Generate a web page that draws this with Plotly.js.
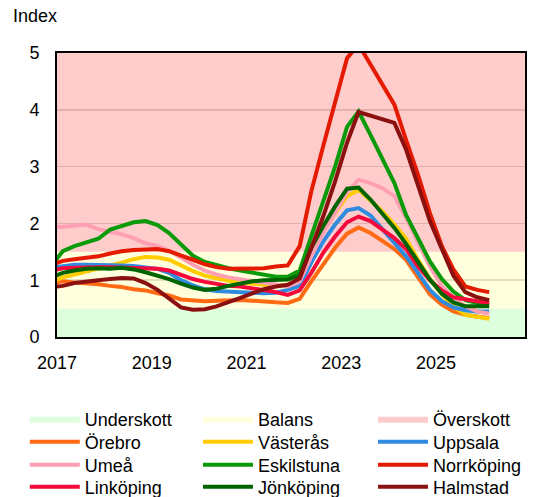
<!DOCTYPE html>
<html>
<head>
<meta charset="utf-8">
<script src="https://cdn.plot.ly/plotly-3.0.1.min.js"></script>
<style>html,body{margin:0;padding:0;background:#fff;}#chart{width:551px;height:497px;}</style>
</head>
<body>
<div id="chart"></div>
<script>
const dates = ['2016-11-15','2017-02-15','2017-05-15','2017-08-15','2017-11-15','2018-02-15','2018-05-15','2018-08-15','2018-11-15','2019-02-15','2019-05-15','2019-08-15','2019-11-15','2020-02-15','2020-05-15','2020-08-15','2020-11-15','2021-02-15','2021-05-15','2021-08-15','2021-11-15','2022-02-15','2022-05-15','2022-08-15','2022-11-15','2023-02-15','2023-05-15','2023-08-15','2023-11-15','2024-02-15','2024-05-15','2024-08-15','2024-11-15','2025-02-15','2025-05-15','2025-08-15','2025-11-15','2026-02-15'];

const orebro     = [0.95,0.98,0.96,0.95,0.93,0.90,0.88,0.84,0.82,0.77,0.73,0.66,0.64,0.63,0.64,0.65,0.65,0.64,0.62,0.61,0.60,0.67,0.98,1.27,1.57,1.82,1.93,1.83,1.68,1.55,1.36,1.04,0.75,0.57,0.45,0.39,0.36,0.33];
const vasteras   = [0.97,1.05,1.10,1.15,1.20,1.25,1.31,1.37,1.41,1.40,1.36,1.26,1.16,1.08,1.03,0.99,0.96,0.94,0.92,0.90,0.92,0.98,1.42,1.86,2.18,2.48,2.59,2.39,2.21,1.98,1.73,1.36,1.02,0.75,0.54,0.39,0.35,0.32];
const uppsala    = [1.22,1.25,1.27,1.27,1.27,1.27,1.26,1.25,1.23,1.20,1.13,1.00,0.91,0.84,0.81,0.80,0.79,0.79,0.77,0.78,0.83,0.90,1.31,1.68,1.98,2.23,2.27,2.14,1.90,1.68,1.42,1.13,0.83,0.63,0.52,0.47,0.45,0.45];
const umea       = [1.94,1.94,1.96,1.98,1.90,1.85,1.81,1.74,1.65,1.60,1.52,1.40,1.27,1.17,1.10,1.05,1.01,0.98,0.96,0.93,0.89,0.98,1.42,1.83,2.18,2.55,2.77,2.71,2.62,2.48,2.10,1.65,1.24,0.90,0.69,0.54,0.45,0.41];
const eskilstuna = [1.25,1.51,1.60,1.67,1.73,1.89,1.96,2.02,2.04,1.97,1.83,1.64,1.43,1.32,1.26,1.21,1.17,1.13,1.09,1.06,1.06,1.17,1.77,2.36,3.00,3.70,3.97,3.56,3.12,2.71,2.15,1.74,1.33,1.02,0.80,0.65,0.60,0.57];
const norrkoping = [1.27,1.34,1.37,1.39,1.42,1.47,1.51,1.53,1.54,1.55,1.51,1.44,1.36,1.28,1.23,1.20,1.20,1.20,1.21,1.24,1.26,1.60,2.56,3.36,4.12,4.91,5.15,4.80,4.47,4.09,3.47,2.86,2.18,1.60,1.19,0.89,0.83,0.79];
const linkoping  = [1.17,1.21,1.22,1.23,1.23,1.23,1.22,1.22,1.21,1.20,1.17,1.09,1.02,0.97,0.93,0.90,0.89,0.86,0.83,0.79,0.74,0.82,1.13,1.48,1.77,2.02,2.12,2.04,1.89,1.74,1.55,1.24,1.00,0.82,0.70,0.66,0.63,0.60];
const jonkoping  = [1.05,1.13,1.17,1.20,1.21,1.20,1.22,1.19,1.14,1.08,1.02,0.94,0.87,0.83,0.85,0.90,0.94,0.98,1.00,1.01,1.01,1.09,1.57,1.95,2.30,2.61,2.63,2.42,2.18,1.92,1.64,1.31,1.01,0.76,0.61,0.54,0.54,0.54];
const halmstad   = [0.88,0.90,0.95,0.98,1.00,1.02,1.04,1.03,0.95,0.83,0.68,0.52,0.48,0.49,0.54,0.61,0.69,0.77,0.84,0.89,0.92,1.03,1.57,2.12,2.74,3.42,3.96,3.90,3.84,3.77,3.30,2.65,2.04,1.55,1.08,0.79,0.70,0.65];

const bandNames = ['Underskott','Balans','Överskott'];
const bandTops  = [0.5, 1.5, 5];
const bandColors = ['rgba(187,255,187,0.5)','rgba(255,255,187,0.5)','rgba(255,153,153,0.5)'];
const xRange = ['2017-01-01','2026-11-18'];
const tickVals = ['2017-01-01','2019-01-01','2021-01-01','2023-01-01','2025-01-01'];
const tickText = ['2017','2019','2021','2023','2025'];

const seriesNames  = ['Örebro','Västerås','Uppsala','Umeå','Eskilstuna','Norrköping','Linköping','Jönköping','Halmstad'];
const seriesData   = [orebro, vasteras, uppsala, umea, eskilstuna, norrkoping, linkoping, jonkoping, halmstad];
const seriesColors = ['#FF6A13','#FFCC00','#2E8BE0','#FF9FB3','#0A9A0A','#E41B00','#F5083C','#006400','#8B1010'];

// legend grid placement (container fractions): 3 columns x 4 rows
const legendColX = [0.045, 0.3593, 0.677];
const legendRowY = [0.1942, 0.1479, 0.1016, 0.0573];
const legendId = j => (j === 0 ? 'legend' : 'legend' + (j + 1));

const traces = [];
bandNames.forEach((n, i) => {
  traces.push({
    x: xRange, y: [bandTops[i], bandTops[i]], name: n, type: 'scatter', mode: 'lines',
    line: {width: 0, color: bandColors[i]}, fill: i === 0 ? 'tozeroy' : 'tonexty',
    fillcolor: bandColors[i], hoverinfo: 'skip'
  });
});
seriesNames.forEach((n, i) => {
  traces.push({
    x: dates, y: seriesData[i], name: n, type: 'scatter', mode: 'lines',
    line: {width: 4, color: seriesColors[i]}
  });
});
traces.forEach((t, j) => { t.legend = legendId(j); });

const font = 'Arial, "Liberation Sans", sans-serif';
const layout = {
  width: 551, height: 497,
  margin: {l: 56.5, r: 26, t: 53, b: 160, autoexpand: false},
  paper_bgcolor: '#fff', plot_bgcolor: '#fff',
  font: {family: font, size: 18, color: '#000'},
  showlegend: true,
  xaxis: {
    type: 'date', range: xRange, tickvals: tickVals, ticktext: tickText,
    showgrid: false, zeroline: false, showline: true, linecolor: '#000', linewidth: 2, mirror: true,
    ticks: '', ticklabelstandoff: 8, tickfont: {size: 18}
  },
  yaxis: {
    range: [0, 5], dtick: 1, showgrid: true, gridcolor: '#c4c4c4', gridwidth: 1.5,
    zeroline: false, showline: true, linecolor: '#000', linewidth: 2, mirror: true,
    ticks: '', ticklabelstandoff: 12, tickfont: {size: 18}
  },
  annotations: [{
    text: 'Index', xref: 'paper', yref: 'paper', x: -0.099, y: 1.13,
    xanchor: 'left', yanchor: 'middle', showarrow: false, font: {size: 18}
  }]
};
traces.forEach((t, j) => {
  layout[legendId(j)] = {
    orientation: 'v', xref: 'container', yref: 'container',
    x: legendColX[j % 3], xanchor: 'left', y: legendRowY[Math.floor(j / 3)], yanchor: 'top',
    itemwidth: 50, font: {size: 18}, bgcolor: 'rgba(0,0,0,0)', borderwidth: 0
  };
});
Plotly.newPlot('chart', traces, layout, {displayModeBar: false, staticPlot: true});
</script>
</body>
</html>
